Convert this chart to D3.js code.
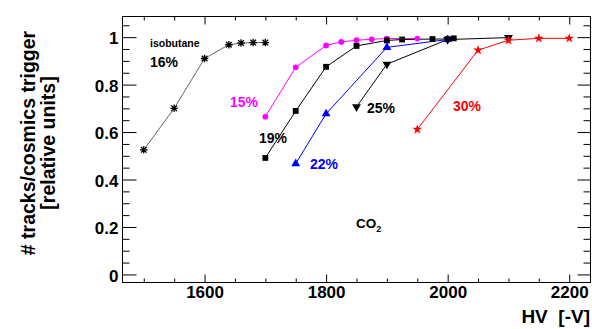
<!DOCTYPE html>
<html><head><meta charset="utf-8">
<script src="https://cdn.jsdelivr.net/npm/d3@7"></script>
<style>
body{margin:0;background:#fff}
svg{display:block}
text{font-family:"Liberation Sans",Arial,Helvetica,sans-serif;font-weight:bold}
</style></head>
<body><svg id="c" width="592" height="329"></svg>
<script>
// ---- data ----
const hvIso16 = [1500,1550,1600,1640,1660,1680,1700];
const effIso16 = [0.525,0.70,0.91,0.968,0.975,0.977,0.977];
const hvCO2_15 = [1700,1750,1800,1825,1850,1875,1900,1950];
const effCO2_15 = [0.665,0.873,0.965,0.98,0.987,0.991,0.994,0.994];
const hvCO2_19 = [1700,1750,1800,1850,1900,1925,1975,2000,2010];
const effCO2_19 = [0.491,0.689,0.875,0.963,0.986,0.99,0.992,0.992,0.995];
const hvCO2_22 = [1750,1800,1900,2000];
const effCO2_22 = [0.467,0.677,0.957,0.99];
const hvCO2_25 = [1850,1900,2000,2100];
const effCO2_25 = [0.706,0.886,0.99,0.998];
const hvCO2_30 = [1950,2050,2100,2150,2200];
const effCO2_30 = [0.611,0.945,0.987,0.995,0.995];
const xMajorTicks = [1600,1800,2000,2200];
const xMinorTicks = [1500,1550,1650,1700,1750,1850,1900,1950,2050,2100,2150];
const yMajorTicks = [0,0.2,0.4,0.6,0.8,1];
const yMinorTicks = [0.05,0.1,0.15,0.25,0.3,0.35,0.45,0.5,0.55,0.65,0.7,0.75,0.85,0.9,0.95,1.05];
const seriesLabels = ["16%","15%","19%","22%","25%","30%"];

// ---- scales ----
const svg = d3.select("#c");
const x = d3.scaleLinear().domain([1465,2235]).range([122.5,590.5]);
const y = d3.scaleLinear().domain([-0.034,1.087]).range([282.5,16.5]);

// axes (ticks inward)
function axisG(axis, tr){
  const g = svg.append("g").attr("transform", tr).call(axis);
  g.select(".domain").remove();
  g.selectAll("line").attr("stroke","#000").attr("stroke-width",1);
  return g;
}
const fmtX = d=>String(d);
const fmtY = d=>d===0?"0":(d===1?"1":d3.format(".1f")(d));
let g;
g = axisG(d3.axisBottom(x).tickValues(xMajorTicks).tickSize(-8).tickPadding(13).tickFormat(fmtX), "translate(0,282.5)");
g.selectAll("text").attr("font-size",17).attr("fill","#000").attr("dy","0.71em").attr("y",3);
axisG(d3.axisBottom(x).tickValues(xMinorTicks).tickSize(-4).tickFormat(""), "translate(0,282.5)");
axisG(d3.axisTop(x).tickValues(xMajorTicks).tickSize(-8).tickFormat(""), "translate(0,16.5)");
axisG(d3.axisTop(x).tickValues(xMinorTicks).tickSize(-4).tickFormat(""), "translate(0,16.5)");
g = axisG(d3.axisLeft(y).tickValues(yMajorTicks).tickSize(-14).tickPadding(4).tickFormat(fmtY), "translate(122.5,0)");
g.selectAll("text").attr("font-size",17).attr("fill","#000").attr("x",-4).attr("dy","0.4em");
axisG(d3.axisLeft(y).tickValues(yMinorTicks).tickSize(-7).tickFormat(""), "translate(122.5,0)");
axisG(d3.axisRight(y).tickValues(yMajorTicks).tickSize(-13).tickFormat(""), "translate(590.5,0)");
axisG(d3.axisRight(y).tickValues(yMinorTicks).tickSize(-7).tickFormat(""), "translate(590.5,0)");

svg.append("rect").attr("x",122.5).attr("y",16.5).attr("width",468).attr("height",266)
  .attr("fill","none").attr("stroke","#000").attr("stroke-width",1);

// ---- symbols ----
const symAsterisk = {draw(ctx,size){const r=Math.sqrt(size)/2,d=r*0.75;
  ctx.moveTo(-r,0);ctx.lineTo(r,0);ctx.moveTo(0,-r);ctx.lineTo(0,r);
  ctx.moveTo(-d,-d);ctx.lineTo(d,d);ctx.moveTo(-d,d);ctx.lineTo(d,-d);}};

const series = [
  {hv:hvIso16, eff:effIso16, line:"#666", color:"#000", sym:symAsterisk, size:56, rot:0, stroke:true},
  {hv:hvCO2_15, eff:effCO2_15, line:"#ff00ff", color:"#ff00ff", sym:d3.symbolCircle, size:26, rot:0},
  {hv:hvCO2_19, eff:effCO2_19, line:"#000", color:"#000", sym:d3.symbolSquare, size:34, rot:0},
  {hv:hvCO2_22, eff:effCO2_22, line:"#0000ff", color:"#0000ff", sym:d3.symbolTriangle, size:34, rot:0},
  {hv:hvCO2_25, eff:effCO2_25, line:"#000", color:"#000", sym:d3.symbolTriangle, size:34, rot:180},
  {hv:hvCO2_30, eff:effCO2_30, line:"#ff0000", color:"#ff0000", sym:d3.symbolStar, size:30, rot:0}
];
const lineGen = d3.line().x(d=>x(d[0])).y(d=>y(d[1]));
series.forEach(s=>{
  const pts = s.hv.map((h,i)=>[h,s.eff[i]]);
  svg.append("path").attr("d",lineGen(pts)).attr("fill","none").attr("stroke",s.line).attr("stroke-width",1);
});
series.forEach(s=>{
  const pts = s.hv.map((h,i)=>[h,s.eff[i]]);
  const sym = d3.symbol().type(s.sym).size(s.size);
  svg.append("g").selectAll("path").data(pts).join("path")
    .attr("transform",d=>`translate(${x(d[0])},${y(d[1])}) rotate(${s.rot})`)
    .attr("d",sym)
    .attr("fill",s.stroke?"none":s.color)
    .attr("stroke",s.stroke?s.color:"none")
    .attr("stroke-width",1.3);
});

// ---- labels ----
function label(txt,px,py,size,color,anchor){
  return svg.append("text").attr("x",px).attr("y",py).attr("font-size",size)
    .attr("fill",color).attr("text-anchor",anchor||"start").text(txt);
}
label("isobutane",150,46.5,10.5,"#000");
label(seriesLabels[0],150,66.5,14,"#000");
label(seriesLabels[1],230,106.5,14,"#ff00ff");
label(seriesLabels[2],259,142.5,14,"#000");
label(seriesLabels[3],310,168.5,14,"#0000ff");
label(seriesLabels[4],367,112.5,14,"#000");
label(seriesLabels[5],453,110.5,14,"#ff0000");
const co = label("CO",356,227.5,13.5,"#000");
co.append("tspan").attr("font-size",9).attr("dy",4).text("2");

label("HV  [-V]",590,323,19,"#000","end").style("white-space","pre");
const yt = svg.append("text").attr("transform","translate(0,143) rotate(-90)").attr("text-anchor","middle").attr("font-size",19.5).attr("fill","#000");
yt.append("tspan").attr("x",0).attr("y",35).text("# tracks/cosmics trigger");
yt.append("tspan").attr("x",0).attr("y",55).text("[relative units]");
</script></body></html>
